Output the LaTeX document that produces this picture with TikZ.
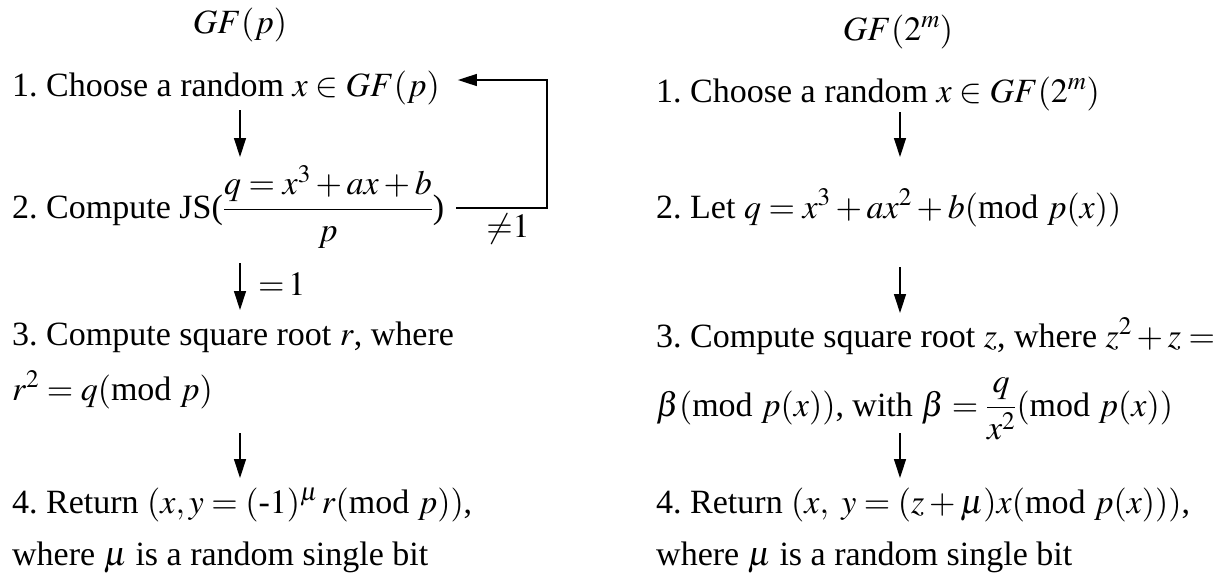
\documentclass[tikz,border=0pt]{standalone}
\usepackage{amsmath}
\usepackage{mathptmx}
\usepackage[no-math]{fontspec}
\setmainfont{Liberation Serif}
\usepackage{tikz}
\usetikzlibrary{arrows.meta,calc}
\frenchspacing

\begin{document}
\begin{tikzpicture}[
  x=1pt, y=-1pt,
  every node/.style={inner sep=0pt, font=\fontsize{34}{40}\selectfont},
  algo/.style={anchor=base west},
  title/.style={anchor=base},
  cond/.style={anchor=base},
  arrow/.style={-{Triangle[length=19pt,width=12pt]}, line width=1.3pt}
]
\useasboundingbox (0,0) rectangle (1230,579);

% GF(p)
\node[title] (tl) at (240,33) {$GF(p)$};
\node[algo] (l1) at (12,96) {1. Choose a random $x\in GF(p)$};
\node[algo] (l2) at (12,218) {2. Compute JS($\dfrac{q=x^3+ax+b}{p}$)};
\node[algo] (l3) at (12,345) {3. Compute square root $r$, where};
\node[algo] (l3b) at (12,400) {$r^2=q(\text{mod }p)$};
\node[algo] (l4) at (12,513) {4. Return $(x,y=(\text{-}1)^{\mu}\,r(\text{mod }p))$,};
\node[algo] (l4b) at (12,565) {where $\mu$ is a random single bit};

% GF(2^m)
\node[title] (tr) at (898,40) {$GF(2^m)$};
\node[algo] (r1) at (656,102) {1. Choose a random $x\in GF(2^m)$};
\node[algo] (r2) at (656,218) {2. Let $q=x^3+ax^2+b(\text{mod }p(x))$};
\node[algo] (r3) at (656,347) {3. Compute square root $z$, where $z^2+z=$};
\node[algo] (r3b) at (656,416) {$\beta(\text{mod }p(x))$, with $\beta=\dfrac{q}{x^2}(\text{mod }p(x))$};
\node[algo] (r4) at (656,513) {4. Return $(x,\ y=(z+\mu)x(\text{mod }p(x)))$,};
\node[algo] (r4b) at (656,565) {where $\mu$ is a random single bit};

\coordinate (lx) at (240,0);
\coordinate (rx) at (900,0);
\coordinate (fb) at (547,80);

\node[cond] (ne) at (508,237) {${\neq}1$};
\node[cond, anchor=base west] (eq) at (258,295) {${=}\,1$};

\draw[arrow] ($(l1.base -| lx)+(0,14)$) -- ($(l2.base -| lx)+(0,-61)$);
\draw[arrow] ($(l2.base -| lx)+(0,45)$) -- ($(l3.base -| lx)+(0,-35)$);
\draw[arrow] ($(l3b.base -| lx)+(0,33)$) -- ($(l4.base -| lx)+(0,-35)$);
\draw[arrow] ($(l2.base east)+(12,-10)$) -| (fb) -- ($(fb -| l1.east)+(18,0)$);

\draw[arrow] ($(r1.base -| rx)+(0,10)$) -- ($(r2.base -| rx)+(0,-61)$);
\draw[arrow] ($(r2.base -| rx)+(0,49)$) -- ($(r3.base -| rx)+(0,-34)$);
\draw[arrow] ($(r3b.base -| rx)+(0,17)$) -- ($(r4.base -| rx)+(0,-35)$);
\end{tikzpicture}
\end{document}
